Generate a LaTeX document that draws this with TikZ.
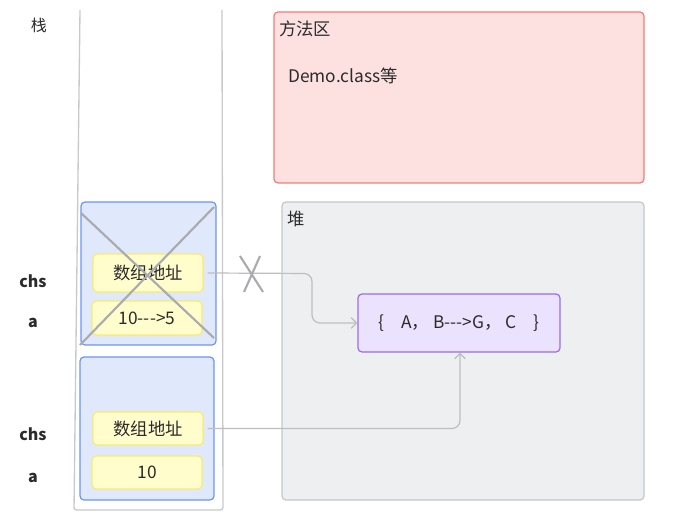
\documentclass[tikz,border=0pt]{standalone}
\usepackage{fontspec}
\setmainfont[Ligatures=TeXOff]{Noto Sans CJK SC}
\usetikzlibrary{fit,arrows.meta}
\definecolor{stackline}{HTML}{C8C9CC}
\definecolor{frameblue}{HTML}{6C95F2}
\definecolor{fillblue}{HTML}{E0E8FC}
\definecolor{ybord}{HTML}{FAEB6E}
\definecolor{yfill}{HTML}{FFFDCC}
\definecolor{rbord}{HTML}{F27C78}
\definecolor{rfill}{HTML}{FDE0E0}
\definecolor{gbord}{HTML}{C4C6CA}
\definecolor{gfill}{HTML}{EEEFF1}
\definecolor{pbord}{HTML}{9B6BEE}
\definecolor{pfill}{HTML}{EBE2FD}
\definecolor{conn}{HTML}{BDBEC1}
\definecolor{txt}{HTML}{2B2B2B}
\tikzset{
  frame/.style={draw=frameblue, fill=fillblue, rounded corners=3pt, line width=0.9pt, inner sep=0pt},
  ybox/.style={draw=ybord, fill=yfill, rounded corners=3pt, line width=0.9pt, inner sep=0pt},
  area/.style={rounded corners=3pt, line width=0.9pt, inner sep=0pt},
  lbl/.style={font=\fontsize{13pt}{15pt}\selectfont, text=txt, inner sep=0pt},
  side/.style={font=\fontsize{12pt}{14pt}\selectfont\bfseries, text=txt, inner sep=0pt},
  conline/.style={draw=conn, line width=0.9pt, rounded corners=6pt},
  crossline/.style={draw=conn!90!black, line width=1.6pt}
}
\begin{document}
\begin{tikzpicture}[x=0.75pt,y=-0.75pt]
\useasboundingbox (0,0) rectangle (696,531);
% stack container
\draw[stackline, line width=1pt, rounded corners=2pt] (80,10) -- (74,510) -- (223,510) -- (222,10);
\node[lbl, font=\fontsize{12pt}{14pt}\selectfont] (stk) at (39,25) {栈};
% method area
\node[area, draw=rbord, fill=rfill, fit={(274,12)(644,183)}] (method) {};
\node[lbl, anchor=north west] (methodt) at (279,21) {方法区};
\node[lbl, anchor=west] (democ) at (288,76) {Demo.class等};
% heap
\node[area, draw=gbord, fill=gfill, fit={(282,202)(644,500)}] (heap) {};
\node[lbl, anchor=north west] (heapt) at (287,211) {堆};
\node[draw=pbord, fill=pfill, rounded corners=3pt, line width=0.9pt, inner sep=0pt, fit={(358,294)(560,352)}] (arr) {};
\node[lbl] (arrt) at (arr.center) {\{\hspace{13pt}A，\hspace{3pt}B--->G，\hspace{3pt}C\hspace{13pt}\}};
% upper frame
\node[frame, fit={(81,202)(216,345)}] (f1) {};
\node[ybox, fit={(93,254)(203,292)}] (addr1) {};
\node[lbl] (addr1t) at (addr1.center) {数组地址};
\node[ybox, fit={(92,301)(202,335)}] (val1) {};
\node[lbl] (val1t) at (val1.center) {10--->5};
\coordinate (c1a) at (81,213);
\coordinate (c1b) at (214,338);
\coordinate (c1c) at (80,345);
\coordinate (c1d) at (214,207);
\draw[crossline] (c1a) -- (c1b);
\draw[crossline] (c1c) -- (c1d);
% lower frame
\node[frame, fit={(80,357)(214,500)}] (f2) {};
\node[ybox, fit={(93,412)(203,445)}] (addr2) {};
\node[lbl] (addr2t) at (addr2.center) {数组地址};
\node[ybox, fit={(92,456)(202,489)}] (val2) {};
\node[lbl] (val2t) at (val2.center) {10};
% side labels
\node[side] (chs1) at (33,281) {chs};
\node[side] (a1) at (33,323) {a};
\node[side] (chs2) at (33,434) {chs};
\node[side] (a2) at (33,478) {a};
% connectors
\draw[conline, -{Straight Barb[length=4pt,width=8pt]}] (addr1.east) ++(4,0) -- (312,273.5) -- (312,323) -- (arr.west);
\draw[conline, -{Straight Barb[length=4pt,width=8pt]}] (addr2.east) ++(4,0) -- (460,428.5) -- (arr.south -| 460,0);
% X on connector
\coordinate (x1) at (240,256);
\coordinate (x2) at (263,292);
\coordinate (x3) at (260,256);
\coordinate (x4) at (244,292);
\draw[crossline] (x1) -- (x2);
\draw[crossline] (x3) -- (x4);
\end{tikzpicture}
\end{document}
